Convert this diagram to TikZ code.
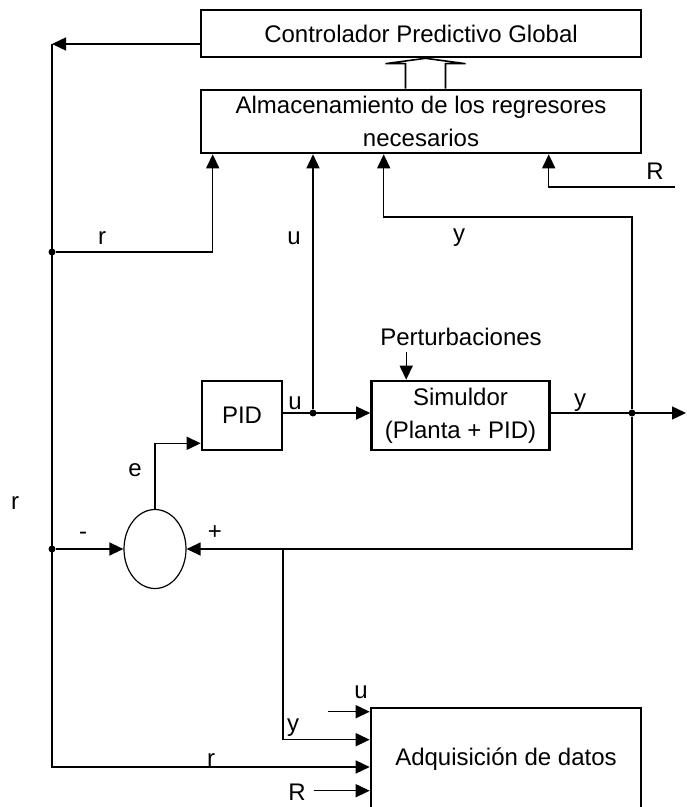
\documentclass[tikz,border=0pt]{standalone}
\usepackage{fontspec}
\setmainfont{Liberation Sans}
\usetikzlibrary{arrows.meta,positioning,shapes.geometric,calc}

\begin{document}
\begin{tikzpicture}[x=0.5pt, y=-0.5pt,
  bloque/.style={draw, line width=1.3pt, inner sep=0pt, align=center, font=\fontsize{12}{16.5}\selectfont},
  senal/.style={-{Triangle[length=7pt, width=6.5pt]}, line width=0.7pt},
  linea/.style={line width=0.7pt},
  etq/.style={font=\fontsize{12}{14}\selectfont, inner sep=0pt},
  punto/.style={circle, fill, inner sep=0pt, minimum size=3.5pt}]
\useasboundingbox (0,0) rectangle (686,807);

% bloques
\node[bloque, minimum width=220pt, minimum height=23.5pt] (cpg) at (421,33.5) {Controlador Predictivo Global};
\node[bloque, minimum width=220pt, minimum height=31.5pt] (alm) at (421,121.5) {Almacenamiento de los regresores\\necesarios};
\node[bloque, minimum width=40pt, minimum height=34.5pt] (pid) at (242,415.5) {PID};
\node[bloque, minimum width=89pt, minimum height=34.5pt] (sim) at (460.5,415.5) {Simuldor\\(Planta + PID)};
\node[draw, ellipse, line width=0.6pt, minimum width=31pt, minimum height=39.5pt, inner sep=0pt] (suma) at (155,549) {};
\node[bloque, minimum width=135pt, minimum height=51pt] (adq) at (506,759) {Adquisición de datos};
\node[etq] (pert) at (461,337) {Perturbaciones};

% puntos de union
\node[punto] (rdot) at (52,252) {};
\node[punto] (udot) at (313,413) {};
\node[punto] (ydot) at (632,413) {};
\node[punto] (ldot) at (52,549) {};
\coordinate (esq) at (52,44);
\coordinate (rb) at (52,767);
\coordinate (ycodo) at (632,217);
\coordinate (yret) at (632,549);
\coordinate (yder) at (283,549);
\coordinate (Rent) at (675,187);
\coordinate (ysal) at (686,413);

% flecha hueca
\coordinate (fh) at ($(alm.north)+(4.5,0)$);
\draw[line width=0.8pt, fill=white] ($(fh)+(-20,0)$) -- ++(0,-25) -- ++(-20,0) -- (fh |- cpg.south)
  -- ($(fh)+(40,-25)$) -- ++(-20,0) -- ++(0,25);

% senales
\draw[senal] (cpg.west |- esq) -- (esq);
\draw[senal] (esq) -- (rb) -- (adq.west |- rb);
\draw[senal] (rdot) -| ($(alm.south west)+(13,0)$);
\draw[senal] (udot) -- (udot |- alm.south);
\draw[senal] (ydot) -- (ycodo) -| ($(alm.south west)+(184,0)$);
\draw[senal] (Rent) -| ($(alm.south west)+(349,0)$);
\draw[senal] ($(sim.north west)+(36,-28)$) -- ++(0,28);
\draw[senal] (pid.east |- udot) -- (sim.west |- udot);
\draw[senal] (sim.east |- ydot) -- (ysal);
\draw[senal] (ydot) -- (yret) -- (suma.east);
\draw[senal] (ldot) -- (suma.west);
\draw[senal] (suma.north) |- ($(pid.south west)+(0,-8)$);
\draw[senal] (yder) |- ($(adq.north west)+(0,33)$);
\draw[senal] ($(adq.north west)+(-42,5)$) -- ++(42,0);
\draw[senal] ($(adq.north west)+(-56,84)$) -- ++(56,0);

% etiquetas
\node[etq] (lr1) at (102,238) {r};
\node[etq] (lu1) at (294,238) {u};
\node[etq] (ly1) at (459,238) {y};
\node[etq] (lR1) at (655,171) {R};
\node[etq] (lu2) at (295,403) {u};
\node[etq] (ly2) at (580,403) {y};
\node[etq] (le) at (135,470) {e};
\node[etq] (lr2) at (15,503) {r};
\node[etq] (lmenos) at (83,536) {-};
\node[etq] (lmas) at (215,533) {+};
\node[etq] (lu3) at (361,692) {u};
\node[etq] (ly3) at (293,728) {y};
\node[etq] (lr3) at (211,760) {r};
\node[etq] (lR2) at (297,792) {R};
\end{tikzpicture}
\end{document}
